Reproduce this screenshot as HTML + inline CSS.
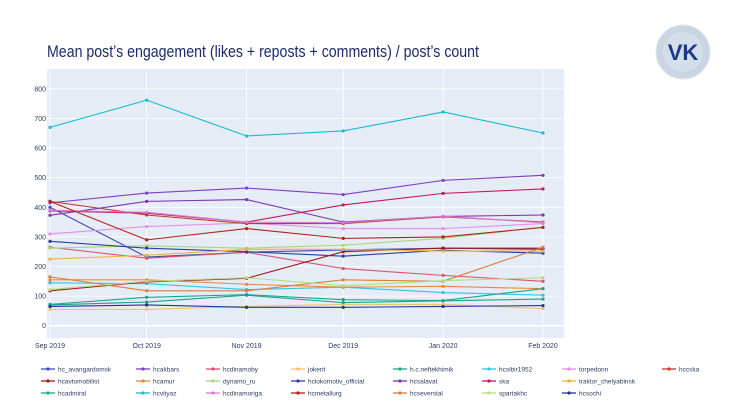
<!DOCTYPE html>
<html><head><meta charset="utf-8"><style>
body{margin:0;background:#fff;}
svg{display:block;font-family:"Liberation Sans",sans-serif;}
</style></head><body>
<svg id="chart" width="730" height="410" viewBox="0 0 730 410">
<text x="47" y="57" font-size="17" fill="#1c2a68" textLength="432" lengthAdjust="spacingAndGlyphs">Mean post’s engagement (likes + reposts + comments) / post’s count</text>
<g>
<circle cx="683" cy="52" r="27" fill="#c9d6e2" stroke="#e0e6ee"/>
<circle cx="683" cy="52" r="20" fill="#d8e2ec" opacity="0.6"/>
<text x="683" y="60" font-size="22" font-weight="bold" text-anchor="middle" fill="#1d3a8a">VK</text>
</g>
<rect x="47" y="69" width="517" height="269" fill="#e5ecf6"/>
<g id="grid"></g><g id="series"></g><g id="legend"></g>
</svg>
<script>
const months = ["Sep 2019","Oct 2019","Nov 2019","Dec 2019","Jan 2020","Feb 2020"];
const dayOffsets = [0,30,61,91,122,153];
const yTicks = [0,100,200,300,400,500,600,700,800];
const names = ["hc_avangardomsk","hcakbars","hcdinamoby","jokerit","h.c.neftekhimik","hcsibir1952","torpedonn","hccska","hcavtomobilist","hcamur","dynamo_ru","hclokomotiv_official","hcsalavat","ska","traktor_chelyabinsk","hcadmiral","hcvityaz","hcdinamoriga","hcmetallurg","hcseverstal","spartakhc","hcsochi"];
const colors = ["#3b4cc0","#7b3fc4","#d9536f","#f5c26b","#1fa187","#2fc6de","#e58ee5","#c0392b","#a01818","#e8893a","#a9d67a","#2c3e9e","#7a35b0","#c2185b","#f0b040","#13a88a","#19b9d1","#d67ad6","#b0221a","#e07b39","#b3dd7e","#22359a"];
const s_avangard = [400,232,248,256,262,258];
const s_akbars = [415,448,465,443,491,508];
const s_dinamoby = [265,228,248,193,170,150];
const s_jokerit = [55,55,65,72,72,58];
const s_neftekhimik = [70,80,103,78,84,90];
const s_sibir = [145,142,122,130,112,103];
const s_torpedo = [310,335,347,328,328,345];
const s_cska = [420,374,345,345,368,350];
const s_avtomobilist = [118,148,160,250,262,262];
const s_amur = [155,155,140,130,133,125];
const s_dynamo = [262,270,262,272,295,333];
const s_lokomotiv = [285,262,250,235,255,245];
const s_salavat = [373,420,426,350,369,374];
const s_ska = [388,380,350,408,447,462];
const s_traktor = [225,238,258,258,252,252];
const s_admiral = [72,96,105,88,85,125];
const s_vityaz = [670,762,641,658,722,651];
const s_dinamoriga = [390,383,350,348,370,348];
const s_metallurg = [420,290,328,295,300,332];
const s_severstal = [165,118,118,155,150,265];
const s_spartak = [122,150,162,135,152,162];
const s_sochi = [65,70,62,62,65,68];
const series = [s_avangard,s_akbars,s_dinamoby,s_jokerit,s_neftekhimik,s_sibir,s_torpedo,s_cska,s_avtomobilist,s_amur,s_dynamo,s_lokomotiv,s_salavat,s_ska,s_traktor,s_admiral,s_vityaz,s_dinamoriga,s_metallurg,s_severstal,s_spartak,s_sochi];

const NS="http://www.w3.org/2000/svg";
const xS = d => 50 + d*(493/153);
const yS = v => 325.7 - v*0.296;
function mk(tag, attrs, parent){const e=document.createElementNS(NS,tag);for(const k in attrs)e.setAttribute(k,attrs[k]);parent.appendChild(e);return e;}
const grid=document.getElementById('grid'), sg=document.getElementById('series'), lg=document.getElementById('legend');
yTicks.forEach(t=>{
  const l=mk('line',{x1:47,x2:564,y1:yS(t),y2:yS(t),stroke:'#fff','stroke-width':t===0?1.6:0.8},grid);
  
  
  const tx=mk('text',{x:46,y:yS(t)+2.5,'font-size':7,'text-anchor':'end',fill:'#2a3f5f'},grid);
  tx.textContent=t;
  
  
});
months.forEach((m,i)=>{
  const x=xS(dayOffsets[i]);
  const l=mk('line',{x1:x,x2:x,y1:69,y2:338,stroke:'#fff','stroke-width':0.8},grid);
  
  
  const tx=mk('text',{x:x,y:348,'font-size':7,'text-anchor':'middle',fill:'#2a3f5f'},grid);
  tx.textContent=m;
  
  
});
series.forEach((vals,si)=>{
  const g=mk('g',{},sg);
  
  
  const pts=vals.map((v,i)=>xS(dayOffsets[i])+','+yS(v)).join(' ');
  mk('polyline',{points:pts,fill:'none',stroke:colors[si],'stroke-width':1.1},g);
  vals.forEach((v,i)=>{
    const c=mk('circle',{cx:xS(dayOffsets[i]),cy:yS(v),r:1.6,fill:colors[si]},g);
    
    
  });
});
const colX=[41,136,206,291,393,482,562,662], rowY=[369,381,393];
names.forEach((n,i)=>{
  let row, col;
  if(i<8){row=0;col=i;} else {row=1+Math.floor((i-8)/7);col=(i-8)%7;}
  const x=colX[col], y=rowY[row];
  const g=mk('g',{},lg);
  
  
  mk('line',{x1:x,x2:x+14,y1:y,y2:y,stroke:colors[i],'stroke-width':1.3},g);
  mk('circle',{cx:x+7,cy:y,r:1.6,fill:colors[i]},g);
  const t=mk('text',{x:x+17,y:y+2.3,'font-size':6.5,fill:'#2a3f5f'},g);
  t.textContent=n;
});
</script>
</body></html>
